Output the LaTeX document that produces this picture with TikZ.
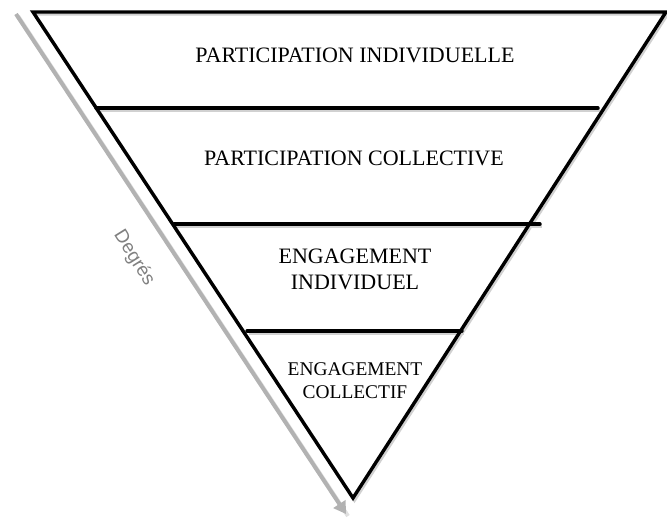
\documentclass[tikz,border=0pt]{standalone}
\usepackage{fontspec}
\setmainfont{Liberation Serif}
\newfontfamily\degfont{Liberation Sans}
\usetikzlibrary{arrows.meta}
\begin{document}
\begin{tikzpicture}[x=1pt,y=-1pt,
  edge/.style={line width=3.4pt,line join=miter,line cap=round},
  shadowline/.style={line width=3.4pt,draw=black!18},
  level/.style={font=\fontsize{22}{26}\selectfont,align=center,inner sep=0pt},
  levelsmall/.style={font=\fontsize{19.4}{23}\selectfont,align=center,inner sep=0pt},
  degarrow/.style={line width=4pt,draw=black!30,-{Triangle[length=12pt,width=14pt]}}]
\useasboundingbox (0,0) rectangle (667,520);
% corners
\coordinate (A) at (33,12);
\coordinate (B) at (666,12);
\coordinate (C) at (353,498);
% level lines
\coordinate (L1a) at (96,108);  \coordinate (L1b) at (598,108);
\coordinate (L2a) at (174,224); \coordinate (L2b) at (540,224);
\coordinate (L3a) at (247,331); \coordinate (L3b) at (462,331);
% arrow ends
\coordinate (S) at (16,14);
\coordinate (T) at (346,514);
% shadows
\draw[line width=4pt,draw=black!12] ([shift={(2,2)}]S) -- ([shift={(2,2)}]T);
\draw[degarrow] (S) -- (T);
\draw[shadowline] ([shift={(1.5,2)}]A) -- ([shift={(1.5,2)}]B) -- ([shift={(1.5,2)}]C) -- cycle;
\foreach \p/\q in {L1a/L1b,L2a/L2b,L3a/L3b}
  \draw[shadowline] ([shift={(1.5,2)}]\p) -- ([shift={(1.5,2)}]\q);
% triangle
\draw[edge] (A) -- (B) -- (C) -- cycle;
\draw[edge] (L1a) -- (L1b);
\draw[edge] (L2a) -- (L2b);
\draw[edge] (L3a) -- (L3b);
% labels
\node[level] (p1) at (355,55) {PARTICIPATION INDIVIDUELLE};
\node[level] (p2) at (354,158) {PARTICIPATION COLLECTIVE};
\node[level] (e1) at (355,269) {ENGAGEMENT\\INDIVIDUEL};
\node[levelsmall] (e2) at (355,381) {ENGAGEMENT\\COLLECTIF};
\node[font=\degfont\fontsize{19}{21}\selectfont,text=black!50,rotate=-58,inner sep=0pt] (deg) at (134,258) {Degrés};
\end{tikzpicture}
\end{document}
